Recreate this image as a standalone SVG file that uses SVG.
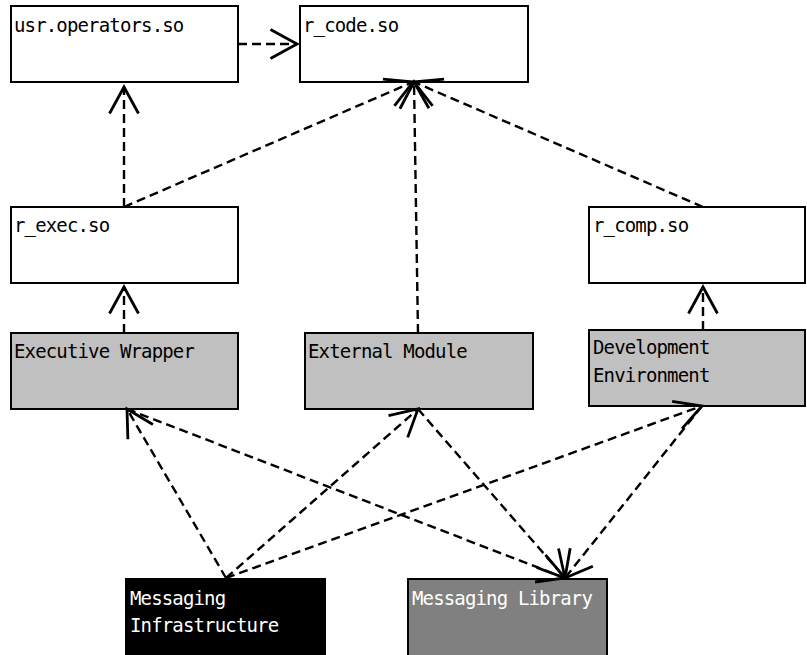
<svg xmlns="http://www.w3.org/2000/svg" width="807" height="655" viewBox="0 0 807 655">
  <style>
    .box { stroke: #000; stroke-width: 2; }
    .lib { fill: #ffffff; }
    .mod { fill: #c0c0c0; }
    .infra { fill: #000000; }
    .msglib { fill: #808080; }
    .label { font-family: "DejaVu Sans Mono", "Liberation Mono", monospace; font-size: 19px; letter-spacing: -0.85px; fill: #000; }
    .inv { fill: #ffffff; }
    .dep { fill: none; stroke: #000; stroke-width: 2.4; stroke-dasharray: 9 5; marker-end: url(#open); }
  </style>
  <defs>
    <marker id="open" markerUnits="userSpaceOnUse" viewBox="-30 -16 34 32" refX="0" refY="0" markerWidth="34" markerHeight="32" orient="auto" overflow="visible">
      <path d="M -26.5,-14.5 L 0,0 L -26.5,14.5" fill="none" stroke="#000" stroke-width="2.8" stroke-linejoin="miter"/>
    </marker>
  </defs>

  <rect width="807" height="655" fill="#ffffff"/>

  <!-- shared libraries -->
  <g id="usr_operators">
    <rect class="box lib" x="11" y="6" width="227" height="76"/>
    <text class="label" x="14" y="32">usr.operators.so</text>
  </g>
  <g id="r_code">
    <rect class="box lib" x="300" y="6" width="228" height="76"/>
    <text class="label" x="303" y="32">r_code.so</text>
  </g>
  <g id="r_exec">
    <rect class="box lib" x="11" y="207" width="227" height="76"/>
    <text class="label" x="14" y="232">r_exec.so</text>
  </g>
  <g id="r_comp">
    <rect class="box lib" x="589" y="207" width="216" height="76"/>
    <text class="label" x="593" y="232">r_comp.so</text>
  </g>

  <!-- modules -->
  <g id="executive_wrapper">
    <rect class="box mod" x="11" y="333" width="227" height="76"/>
    <text class="label" x="14" y="358">Executive Wrapper</text>
  </g>
  <g id="external_module">
    <rect class="box mod" x="305" y="333" width="228" height="76"/>
    <text class="label" x="308" y="358">External Module</text>
  </g>
  <g id="development_environment">
    <rect class="box mod" x="589" y="330" width="216" height="76"/>
    <text class="label" x="593" y="354">Development</text>
    <text class="label" x="593" y="382">Environment</text>
  </g>

  <!-- messaging -->
  <g id="messaging_infrastructure">
    <rect class="box infra" x="126" y="579" width="199" height="82"/>
    <text class="label inv" x="130" y="605">Messaging</text>
    <text class="label inv" x="130" y="632">Infrastructure</text>
  </g>
  <g id="messaging_library">
    <rect class="box msglib" x="408" y="579" width="199" height="82"/>
    <text class="label inv" x="412" y="605">Messaging Library</text>
  </g>

  <!-- dependencies -->
  <g id="connectors">
    <path class="dep" d="M 238,44 L 297,44"/>
    <path class="dep" d="M 124,207 L 124,87"/>
    <path class="dep" d="M 124,207 L 413,82"/>
    <path class="dep" d="M 418,333 L 414,82"/>
    <path class="dep" d="M 703,207 L 414,82"/>
    <path class="dep" d="M 124,333 L 124,287"/>
    <path class="dep" d="M 703,330 L 703,287"/>
    <path class="dep" d="M 226,578 L 127,409"/>
    <path class="dep" d="M 226,578 L 418,409"/>
    <path class="dep" d="M 226,578 L 702,406"/>
    <path class="dep" d="M 127,409 L 565,578"/>
    <path class="dep" d="M 418,409 L 565,578"/>
    <path class="dep" d="M 702,406 L 565,578"/>
  </g>
</svg>
